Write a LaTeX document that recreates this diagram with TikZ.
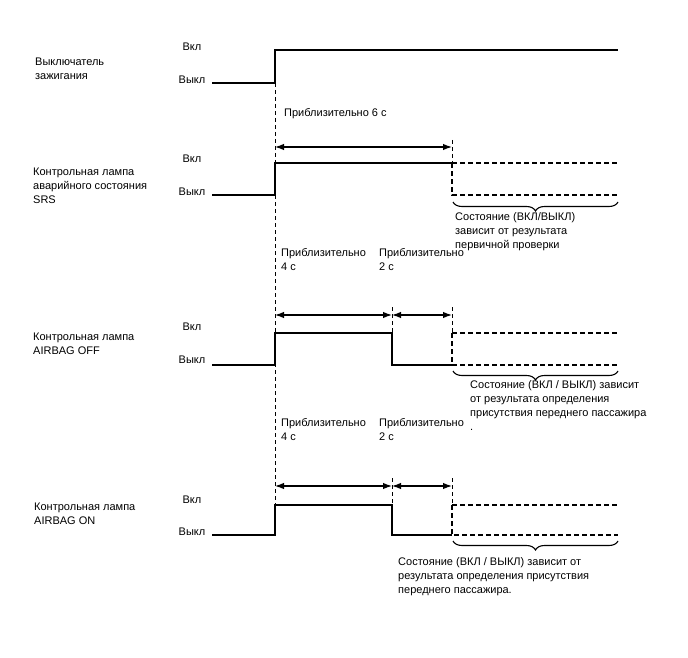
\documentclass[tikz,border=0pt]{standalone}
\usepackage{fontspec}
\setmainfont{Liberation Sans}
\usetikzlibrary{arrows.meta,decorations.pathreplacing}
\tikzset{
  sig/.style={draw=black,line width=1.6pt},
  unk/.style={draw=black,line width=1.4pt,dash pattern=on 5pt off 3pt},
  guide/.style={draw=black,line width=0.7pt,dash pattern=on 4pt off 3pt},
  dim/.style={draw=black,line width=1.2pt,{Latex[length=9pt,width=6.5pt]}-{Latex[length=9pt,width=6.5pt]}},
  brc/.style={draw=black,line width=1.1pt,decorate,decoration={brace,mirror,amplitude=9pt}},
  txt/.style={font=\fontsize{11}{14}\selectfont,align=left,anchor=west,inner sep=0pt},
  lvl/.style={font=\fontsize{11}{14}\selectfont,inner sep=0pt},
}
\begin{document}
\begin{tikzpicture}[x=1pt,y=-1pt]
\path[use as bounding box,fill=white] (0,0) rectangle (688,658);
% -ignition-
\node[txt] (nIgn) at (35,69) {Выключатель\\зажигания};
\node[lvl] (onIgn) at (192,47) {Вкл};
\node[lvl] (offIgn) at (192,80) {Выкл};
\draw[sig] (212,83) -- (275,83) -- (275,50) -- (618,50);
\draw[guide] (275,83) -- (275,505);
% -SRS-
\node[txt] (tSix) at (284,114) {Приблизительно 6 с};
\coordinate (srsA) at (275,147);
\coordinate (srsB) at (452,147);
\draw[dim] (srsA) -- (srsB);
\draw[guide] (452,140) -- (452,163);
\node[txt] (nSrs) at (33,186) {Контрольная лампа\\аварийного состояния\\SRS};
\node[lvl] (onSrs) at (192,159) {Вкл};
\node[lvl] (offSrs) at (192,192) {Выкл};
\draw[sig] (212,195) -- (275,195) -- (275,163) -- (452,163);
\draw[unk] (452,163) -- (618,163) (452,163) -- (452,195) -- (618,195);
\draw[brc] (453,202) -- (618,202);
\node[txt] (sSrs) at (455,232) {Состояние (ВКЛ/ВЫКЛ)\\зависит от результата\\первичной проверки};
% -AIRBAG OFF-
\node[txt] (tFourA) at (281,260) {Приблизительно\\4 с};
\node[txt] (tTwoA) at (379,260) {Приблизительно\\2 с};
\coordinate (offA) at (275,315);
\coordinate (offB) at (392,315);
\coordinate (offC) at (452,315);
\draw[dim] (offA) -- (offB);
\draw[dim] (offB) -- (offC);
\draw[guide] (392,307) -- (392,333) (452,307) -- (452,333);
\node[txt] (nOff) at (33,344) {Контрольная лампа\\AIRBAG OFF};
\node[lvl] (onOff) at (192,327) {Вкл};
\node[lvl] (offOff) at (192,360) {Выкл};
\draw[sig] (212,365) -- (275,365) -- (275,333) -- (392,333) -- (392,365) -- (452,365);
\draw[unk] (452,333) -- (618,333) (452,333) -- (452,365) -- (618,365);
\draw[brc] (453,371) -- (618,371);
\node[txt] (sOff) at (470,406) {Состояние (ВКЛ / ВЫКЛ) зависит\\от результата определения\\присутствия переднего пассажира\\.};
% -AIRBAG ON-
\node[txt] (tFourB) at (281,430) {Приблизительно\\4 с};
\node[txt] (tTwoB) at (379,430) {Приблизительно\\2 с};
\coordinate (onA) at (275,486);
\coordinate (onB) at (392,486);
\coordinate (onC) at (452,486);
\draw[dim] (onA) -- (onB);
\draw[dim] (onB) -- (onC);
\draw[guide] (392,478) -- (392,505) (452,478) -- (452,505);
\node[txt] (nOn) at (34,514) {Контрольная лампа\\AIRBAG ON};
\node[lvl] (onOn) at (192,500) {Вкл};
\node[lvl] (offOn) at (192,532) {Выкл};
\draw[sig] (212,535) -- (275,535) -- (275,505) -- (392,505) -- (392,535) -- (452,535);
\draw[unk] (452,505) -- (618,505) (452,505) -- (452,535) -- (618,535);
\draw[brc] (453,541) -- (618,541);
\node[txt] (sOn) at (398,577) {Состояние (ВКЛ / ВЫКЛ) зависит от\\результата определения присутствия\\переднего пассажира.};
\end{tikzpicture}
\end{document}
